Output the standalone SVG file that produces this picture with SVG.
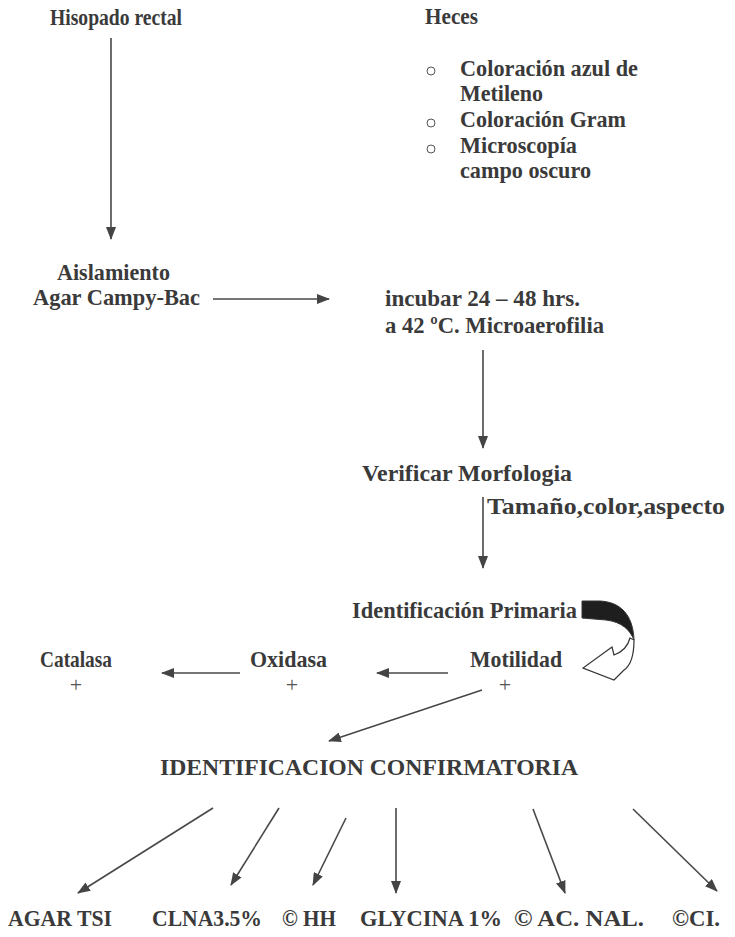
<svg xmlns="http://www.w3.org/2000/svg" width="735" height="937" viewBox="0 0 735 937">
<style>
text{font-family:"Liberation Serif","Times New Roman",serif;font-weight:bold;font-size:23px;fill:#3a3a3a}
.plus{font-weight:normal;font-size:22px;fill:#555}
.cap{font-size:24px}
.ln{stroke:#484848;stroke-width:1.6;fill:none;marker-end:url(#ah)}
.bul{fill:none;stroke:#555;stroke-width:1}
</style>
<defs>
<marker id="ah" markerWidth="13" markerHeight="10" refX="12" refY="5" orient="auto" markerUnits="userSpaceOnUse">
<path d="M0,0 L13,5 L0,10 Z" fill="#444"/>
</marker>
</defs>
<rect width="735" height="937" fill="#fff"/>

<g id="hisopado"><text x="50" y="25" textLength="132" lengthAdjust="spacingAndGlyphs">Hisopado rectal</text></g>
<g id="heces">
<text x="425" y="24" textLength="53" lengthAdjust="spacingAndGlyphs">Heces</text>
<circle class="bul" cx="431" cy="71" r="4"/>
<text x="460" y="76" textLength="178" lengthAdjust="spacingAndGlyphs">Coloración azul de</text>
<text x="460" y="101" textLength="83" lengthAdjust="spacingAndGlyphs">Metileno</text>
<circle class="bul" cx="431" cy="123" r="4"/>
<text x="460" y="127" textLength="166" lengthAdjust="spacingAndGlyphs">Coloración Gram</text>
<circle class="bul" cx="431" cy="149" r="4"/>
<text x="460" y="153" textLength="117" lengthAdjust="spacingAndGlyphs">Microscopía</text>
<text x="460" y="178" textLength="131" lengthAdjust="spacingAndGlyphs">campo oscuro</text>
</g>
<g id="aislamiento">
<text x="57" y="280" textLength="113" lengthAdjust="spacingAndGlyphs">Aislamiento</text>
<text x="33" y="305" textLength="167" lengthAdjust="spacingAndGlyphs">Agar Campy-Bac</text>
</g>
<g id="incubar">
<text x="385" y="306" textLength="195" lengthAdjust="spacingAndGlyphs">incubar 24 – 48 hrs.</text>
<text x="385" y="333" textLength="219" lengthAdjust="spacingAndGlyphs">a 42 ºC. Microaerofilia</text>
</g>
<g id="verificar">
<text x="362" y="481" textLength="210" lengthAdjust="spacingAndGlyphs">Verificar Morfologia</text>
<text x="487" y="514" textLength="238" lengthAdjust="spacingAndGlyphs">Tamaño,color,aspecto</text>
</g>
<g id="primaria">
<text x="352" y="618" textLength="225" lengthAdjust="spacingAndGlyphs">Identificación Primaria</text>
<path d="M582,601 L600,601 C620,602 633,614 634,640 C630,630 622,622 606,620 L582,618 Z" fill="#1e1e1e" stroke="#333" stroke-width="1"/>
<path d="M634,640 C634,656 630,666 624,670 L614,680 L583,668 L612,647 L614,655 C622,652 628,646 630,638 Z" fill="#fff" stroke="#333" stroke-width="1.2" stroke-linejoin="miter"/>
</g>
<g id="catalasa">
<text x="40" y="667" textLength="72" lengthAdjust="spacingAndGlyphs">Catalasa</text>
<text class="plus" x="76" y="692" text-anchor="middle">+</text>
</g>
<g id="oxidasa">
<text x="250" y="667" textLength="77" lengthAdjust="spacingAndGlyphs">Oxidasa</text>
<text class="plus" x="292" y="692" text-anchor="middle">+</text>
</g>
<g id="motilidad">
<text x="470" y="667" textLength="92" lengthAdjust="spacingAndGlyphs">Motilidad</text>
<text class="plus" x="505" y="692" text-anchor="middle">+</text>
</g>
<g id="confirmatoria">
<text class="cap" x="160" y="775" textLength="418" lengthAdjust="spacingAndGlyphs">IDENTIFICACION CONFIRMATORIA</text>
</g>
<g id="tests">
<text class="cap" x="8" y="926" textLength="104" lengthAdjust="spacingAndGlyphs">AGAR TSI</text>
<text class="cap" x="152" y="926" textLength="110" lengthAdjust="spacingAndGlyphs">CLNA3.5%</text>
<text class="cap" x="282" y="926" textLength="54" lengthAdjust="spacingAndGlyphs">© HH</text>
<text class="cap" x="360" y="926" textLength="142" lengthAdjust="spacingAndGlyphs">GLYCINA 1%</text>
<text class="cap" x="514" y="926" textLength="130" lengthAdjust="spacingAndGlyphs">©  AC. NAL.</text>
<text class="cap" x="672" y="926" textLength="48" lengthAdjust="spacingAndGlyphs">©CI.</text>
</g>
<g id="connectors">
<line class="ln" x1="111" y1="38" x2="111" y2="239"/>
<line class="ln" x1="213" y1="299" x2="329" y2="299"/>
<line class="ln" x1="483" y1="350" x2="483" y2="448"/>
<line class="ln" x1="483" y1="497" x2="483" y2="568"/>
<line class="ln" x1="240" y1="673" x2="162" y2="673"/>
<line class="ln" x1="448" y1="673" x2="377" y2="673"/>
<line class="ln" x1="482" y1="690" x2="329" y2="741"/>
<line class="ln" x1="213" y1="808" x2="78" y2="893"/>
<line class="ln" x1="279" y1="808" x2="231" y2="885"/>
<line class="ln" x1="346" y1="818" x2="313" y2="885"/>
<line class="ln" x1="396" y1="808" x2="396" y2="893"/>
<line class="ln" x1="533" y1="809" x2="565" y2="893"/>
<line class="ln" x1="633" y1="809" x2="717" y2="891"/>
</g>
</svg>
